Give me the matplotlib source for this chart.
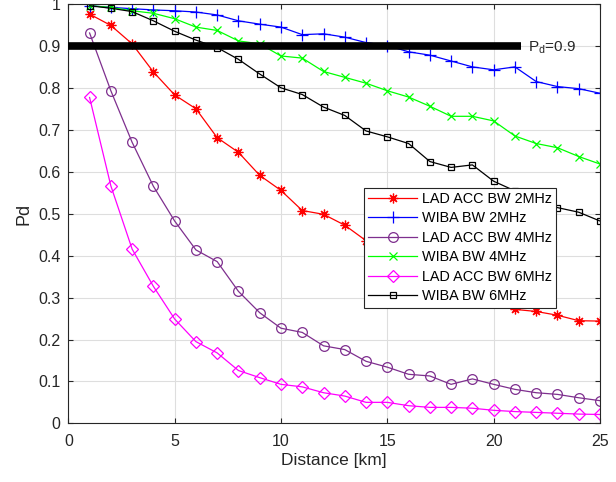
import matplotlib
matplotlib.use("Agg")
import matplotlib.pyplot as plt

distance = list(range(1, 26))

lad_2mhz = [0.977, 0.950, 0.906, 0.839, 0.784, 0.751, 0.682, 0.647, 0.592, 0.556,
            0.508, 0.499, 0.473, 0.436, 0.41, 0.38, 0.355, 0.335, 0.31, 0.29,
            0.272, 0.267, 0.258, 0.245, 0.244]
wiba_2mhz = [0.997, 0.993, 0.990, 0.987, 0.985, 0.982, 0.975, 0.961, 0.953, 0.946,
             0.928, 0.930, 0.922, 0.909, 0.902, 0.887, 0.879, 0.865, 0.851, 0.844,
             0.851, 0.816, 0.804, 0.799, 0.788]
lad_4mhz = [0.932, 0.794, 0.671, 0.566, 0.483, 0.414, 0.386, 0.315, 0.264, 0.227,
            0.217, 0.185, 0.176, 0.148, 0.134, 0.117, 0.113, 0.093, 0.106, 0.093,
            0.081, 0.073, 0.069, 0.061, 0.054]
wiba_4mhz = [0.997, 0.993, 0.985, 0.979, 0.966, 0.946, 0.938, 0.913, 0.906, 0.877,
             0.872, 0.840, 0.826, 0.812, 0.794, 0.779, 0.757, 0.733, 0.733, 0.722,
             0.686, 0.668, 0.658, 0.637, 0.619]
lad_6mhz = [0.778, 0.567, 0.416, 0.327, 0.249, 0.195, 0.168, 0.126, 0.109, 0.093,
            0.087, 0.073, 0.065, 0.050, 0.050, 0.042, 0.038, 0.038, 0.036, 0.031,
            0.028, 0.026, 0.024, 0.022, 0.021]
wiba_6mhz = [0.997, 0.991, 0.983, 0.961, 0.936, 0.915, 0.897, 0.869, 0.834, 0.801,
             0.785, 0.755, 0.735, 0.698, 0.684, 0.668, 0.625, 0.611, 0.617, 0.578,
             0.555, 0.530, 0.515, 0.504, 0.483]

threshold_x = [0, 21.3]
threshold_y = [0.9, 0.9]

labels = ["LAD ACC BW 2MHz", "WIBA BW 2MHz", "LAD ACC BW 4MHz",
          "WIBA BW 4MHz", "LAD ACC BW 6MHz", "WIBA BW 6MHz"]

plt.rcParams['font.family'] = ['Liberation Sans', 'DejaVu Sans']

fig = plt.figure(figsize=(6.16, 4.82), dpi=100)
ax = fig.add_axes([0.1109, 0.1218, 0.8631, 0.8689])

series = [
    (lad_2mhz, '#ff0000', (8, 2, 0), 7, None),
    (wiba_2mhz, '#0000ff', '+', 8, None),
    (lad_4mhz, '#7e2f8e', 'o', 7, 'none'),
    (wiba_4mhz, '#00ff00', 'x', 5.5, None),
    (lad_6mhz, '#ff00ff', 'D', 6, 'none'),
    (wiba_6mhz, '#000000', 's', 5, 'none'),
]
for (vals, col, mk, ms, mfc), lab in zip(series, labels):
    kw = dict(color=col, marker=mk, markersize=ms, linewidth=0.9,
              markeredgewidth=0.9, label=lab)
    if mfc is not None:
        kw['markerfacecolor'] = mfc
    ax.plot(distance, vals, **kw)

ax.plot(threshold_x, threshold_y, color='black', linewidth=5.5,
        solid_capstyle='butt', zorder=5)
ax.text(21.6, 0.898, r'P$_\mathregular{d}$=0.9', fontsize=11, va='center',
        ha='left', color='#262626')

ax.set_xlim(0, 25)
ax.set_ylim(0, 1)
ax.set_xticks(range(0, 26, 5))
ax.set_yticks([i / 10 for i in range(11)])
ax.set_yticklabels(['0', '0.1', '0.2', '0.3', '0.4', '0.5', '0.6', '0.7',
                    '0.8', '0.9', '1'])
ax.grid(True, color='#dedede', linewidth=0.8)
ax.set_axisbelow(True)
ax.tick_params(direction='in', length=3.6, labelsize=11.5, colors='#262626',
               top=True, right=True)
ax.tick_params(axis='x', pad=7.5)
ax.tick_params(axis='y', pad=5.5)
for sp in ax.spines.values():
    sp.set_color('#262626')
    sp.set_linewidth(0.8)

ax.set_xlabel('Distance [km]', fontsize=12.5, color='#262626', labelpad=3)
ax.set_ylabel('Pd', fontsize=13, color='#262626', labelpad=4)

leg = ax.legend(loc='upper left', bbox_to_anchor=(0.556, 0.563), fontsize=10.4,
                frameon=True, fancybox=False, edgecolor='#262626', framealpha=1,
                handlelength=3.4, handletextpad=0.3, labelspacing=0.38,
                borderpad=0.3, borderaxespad=0)
leg.get_frame().set_linewidth(0.8)
leg.set_zorder(10)

fig.savefig('out.png', dpi=100)
